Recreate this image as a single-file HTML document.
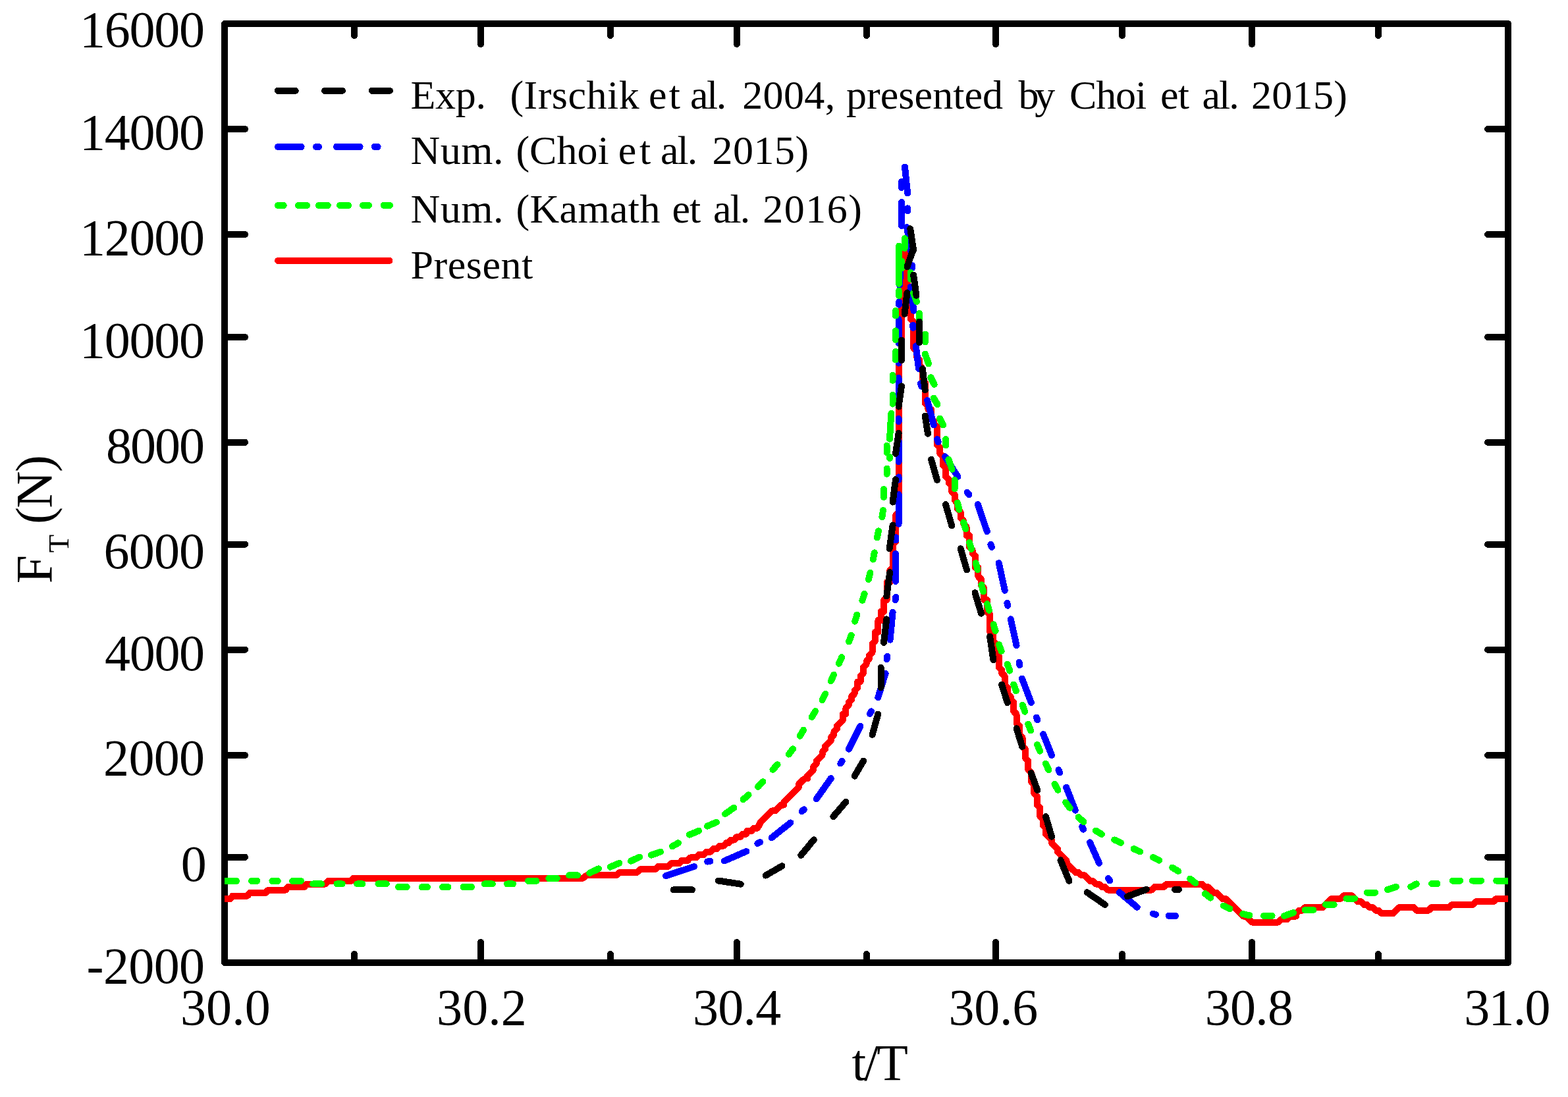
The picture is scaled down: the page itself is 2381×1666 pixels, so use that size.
<!DOCTYPE html>
<html lang="en"><head><meta charset="utf-8"><title>F_T (N) vs t/T</title>
<style>html,body{margin:0;padding:0;background:#fff;overflow:hidden}svg{display:block}text{font-family:'Liberation Serif', serif;fill:#000}.ax{stroke:#000;stroke-width:10;fill:none;stroke-linecap:round;stroke-linejoin:round}.c{fill:none;stroke-width:10;stroke-linecap:round;stroke-linejoin:round}</style></head><body>
<svg width="2381" height="1666" viewBox="0 0 2381 1666">
<rect x="0" y="0" width="2381" height="1666" fill="#fff"/>
<g class="ax" shape-rendering="crispEdges">
<rect x="341.1" y="36.1" width="1949.0" height="1425.9"/>
<path d="M730.0,1462.0V1431.0M730.0,36.1V67.1M1118.9,1462.0V1431.0M1118.9,36.1V67.1M1512.0,1462.0V1431.0M1512.0,36.1V67.1M1901.0,1462.0V1431.0M1901.0,36.1V67.1M538.0,1462.0V1449.0M538.0,36.1V54.1M926.9,1462.0V1449.0M926.9,36.1V54.1M1315.9,1462.0V1449.0M1315.9,36.1V54.1M1704.0,1462.0V1449.0M1704.0,36.1V54.1M2092.9,1462.0V1449.0M2092.9,36.1V54.1M341.1,196.0H372.1M2290.1,196.0H2259.1M341.1,356.0H372.1M2290.1,356.0H2259.1M341.1,511.9H372.1M2290.1,511.9H2259.1M341.1,671.8H372.1M2290.1,671.8H2259.1M341.1,826.7H372.1M2290.1,826.7H2259.1M341.1,986.7H372.1M2290.1,986.7H2259.1M341.1,1147.0H372.1M2290.1,1147.0H2259.1M341.1,1301.8H372.1M2290.1,1301.8H2259.1"/>
</g>
<clipPath id="pa"><rect x="341.1" y="36.1" width="1949.0" height="1425.9"/></clipPath>
<g class="c" clip-path="url(#pa)" shape-rendering="crispEdges">
<polyline stroke="#f00" stroke-linecap="butt" stroke-linejoin="round" points="341.1,1365.0 349.9,1365.0 353.3,1360.5 375.7,1360.5 379.4,1356.1 402.9,1356.1 407.4,1351.6 433.7,1351.6 437.4,1347.1 462.0,1347.1 466.0,1342.6 494.0,1342.6 498.0,1338.2 533.0,1338.2 537.0,1333.7 884.8,1333.7 891.4,1329.2 935.8,1329.2 941.0,1324.8 967.1,1324.8 972.4,1320.3 994.6,1320.3 999.8,1315.8 1014.2,1315.8 1019.4,1311.3 1031.2,1311.3 1035.1,1306.9 1044.2,1306.9 1048.2,1302.4 1057.3,1302.4 1061.2,1297.9 1069.1,1297.9 1073.0,1293.5 1079.5,1293.5 1083.4,1289.0 1088.7,1289.0 1092.6,1284.5 1099.1,1284.5 1103.0,1280.0 1107.0,1280.0 1109.6,1275.6 1114.8,1275.6 1118.7,1271.1 1124.0,1271.1 1127.9,1266.6 1133.1,1266.6 1134.4,1262.2 1140.9,1262.2 1144.9,1257.7 1150.1,1257.7 1152.7,1253.2 1154.6,1249.2 1172.5,1231.4 1177.0,1231.4 1185.9,1222.5 1190.4,1222.5 1190.4,1218.0 1212.8,1195.8 1212.8,1191.3 1221.7,1182.4 1226.2,1182.4 1226.2,1178.0 1235.1,1169.0 1235.1,1164.6 1239.6,1160.2 1239.6,1155.7 1248.5,1146.8 1248.5,1142.4 1253.0,1137.9 1253.0,1133.5 1261.9,1124.5 1261.9,1120.1 1266.4,1115.7 1266.4,1111.2 1270.9,1106.8 1270.9,1102.3 1279.8,1093.4 1279.8,1084.5 1284.3,1084.5 1284.3,1075.6 1288.7,1071.2 1288.7,1066.7 1293.2,1062.2 1293.2,1057.8 1297.7,1053.3 1297.7,1048.9 1302.2,1044.5 1302.2,1035.5 1306.6,1035.5 1306.6,1026.7 1311.1,1022.2 1311.1,1013.3 1315.6,1008.9 1315.6,1004.4 1320.0,1000.0 1320.0,995.5 1324.5,991.0 1324.5,977.7 1329.0,973.2 1329.0,959.9 1333.4,959.9 1333.4,942.1 1337.9,942.1 1337.9,928.8 1342.4,928.8 1342.4,911.0 1346.8,911.0 1346.8,884.2 1351.3,884.2 1351.3,866.5 1355.8,862.0 1355.8,826.4 1360.3,822.0 1360.3,781.9 1364.7,777.5 1364.7,541.6 1369.2,541.6 1369.2,377.0 1373.7,381.4 1373.7,408.1 1378.1,412.5 1378.1,443.7 1382.6,448.1 1382.6,483.8 1387.1,488.2 1387.1,528.2 1391.6,532.7 1391.6,541.6 1396.0,546.1 1396.0,555.0 1400.5,559.4 1400.5,577.2 1405.0,581.6 1405.0,612.8 1409.4,617.2 1409.4,621.7 1413.9,621.7 1413.9,635.1 1418.4,639.5 1418.4,644.0 1422.8,648.4 1422.8,675.1 1427.3,679.6 1427.3,688.5 1431.8,692.9 1431.8,706.2 1436.2,710.7 1436.2,724.1 1440.7,728.5 1440.7,733.0 1445.2,737.4 1445.2,746.3 1449.7,750.8 1449.7,759.6 1454.1,764.1 1454.1,773.0 1458.6,777.5 1458.6,786.4 1463.1,790.8 1463.1,795.2 1467.5,799.7 1467.5,813.1 1472.0,813.1 1472.0,830.9 1476.5,835.3 1476.5,839.8 1480.9,844.2 1480.9,862.0 1485.4,862.0 1485.4,875.4 1489.9,879.8 1489.9,888.7 1494.4,893.2 1494.4,911.0 1498.8,911.0 1498.8,928.8 1503.3,933.2 1503.3,959.9 1507.8,964.4 1507.8,973.2 1512.2,977.7 1512.2,991.0 1516.7,995.5 1516.7,1013.3 1521.2,1017.8 1521.2,1022.2 1525.7,1026.7 1525.7,1040.0 1530.1,1044.5 1530.1,1053.3 1534.6,1057.8 1534.6,1062.2 1539.1,1066.7 1539.1,1080.0 1543.5,1084.5 1543.5,1097.8 1548.0,1102.3 1548.0,1115.7 1552.5,1120.1 1552.5,1133.5 1556.9,1137.9 1556.9,1151.2 1561.4,1155.7 1561.4,1169.0 1565.9,1173.5 1565.9,1186.9 1570.3,1191.3 1570.3,1204.7 1574.8,1209.1 1574.8,1222.5 1579.3,1226.9 1579.3,1240.2 1583.8,1244.7 1583.8,1253.6 1588.2,1258.0 1588.2,1267.0 1597.2,1275.9 1597.2,1280.3 1606.1,1289.2 1606.1,1293.7 1619.5,1307.0 1619.5,1311.5 1632.9,1324.8 1637.4,1324.8 1641.9,1329.2 1646.3,1329.2 1655.3,1338.2 1659.8,1338.2 1664.2,1342.6 1668.7,1342.6 1673.2,1347.0 1677.6,1347.0 1682.1,1351.5 1749.2,1351.5 1753.6,1347.0 1767.0,1347.0 1771.5,1342.6 1825.1,1342.6 1829.6,1347.0 1834.1,1347.0 1843.0,1356.0 1847.5,1356.0 1856.4,1364.9 1860.9,1364.9 1887.7,1391.5 1892.2,1391.5 1901.1,1400.5 1941.4,1400.5 1945.8,1396.0 1954.8,1396.0 1959.2,1391.5 1968.2,1391.5 1968.2,1387.1 1972.7,1382.7 1977.1,1382.7 1981.6,1378.2 2008.4,1378.2 2021.8,1364.9 2035.2,1364.9 2039.7,1360.4 2053.1,1360.4 2062.0,1369.3 2066.5,1369.3 2071.0,1373.8 2075.5,1373.8 2079.9,1378.2 2084.4,1378.2 2088.9,1382.7 2093.3,1382.7 2097.8,1387.1 2115.7,1387.1 2124.6,1378.2 2147.0,1378.2 2151.4,1382.7 2169.3,1382.7 2173.8,1378.2 2200.6,1378.2 2205.1,1373.8 2236.4,1373.8 2240.8,1369.3 2267.7,1369.3 2272.1,1364.9 2290.0,1364.9"/>
<path stroke="#00f" d="M1011.0,1330.1L1054.2,1316.0M1074.3,1308.6L1078.5,1307.8M1099.9,1307.4L1133.3,1293.0M1150.3,1281.0L1154.1,1279.0M1171.8,1272.1L1200.5,1249.4M1217.6,1232.3L1220.8,1229.3M1239.7,1213.4L1261.8,1182.1M1276.4,1159.5L1278.6,1155.9M1288.9,1137.6L1306.3,1102.8M1320.9,1084.0L1323.1,1080.4M1333.3,1059.2L1344.6,1022.6M1346.6,1001.1L1347.2,996.9M1351.6,971.7L1355.6,929.9M1359.8,911.1L1360.2,906.9M1360.0,882.9L1360.0,841.0M1360.1,820.5L1360.5,816.3M1364.6,795.7L1364.6,750.5M1364.6,728.6L1364.6,724.4M1364.6,701.5L1364.6,669.7M1364.6,640.1L1364.6,635.9M1364.6,610.0L1364.6,574.0M1364.6,551.6L1364.6,547.4M1364.6,521.0L1364.6,485.0M1364.9,462.7L1365.1,458.5M1366.0,433.0L1368.0,397.0M1375.5,374.1L1375.5,369.9M1369.1,343.0L1369.1,307.0M1368.8,285.0L1368.8,276.0M1374.0,253.5L1378.1,293.4M1378.4,316.3L1378.4,320.5M1377.0,345.0L1383.0,380.8M1385.0,402.9L1385.0,407.1M1382.5,436.0L1387.5,471.7M1386.3,493.6L1386.5,497.8M1390.8,525.3L1395.1,560.1M1398.0,582.4L1399.2,586.6M1408.2,608.0L1417.8,645.5M1423.2,667.0L1424.6,671.0M1435.2,693.4L1454.4,723.9M1468.7,747.7L1471.3,751.1M1484.8,766.1L1498.8,807.1M1504.4,826.9L1506.0,830.9M1516.7,855.0L1525.8,896.8M1529.4,915.6L1530.2,919.8M1534.8,940.3L1543.6,980.4M1547.5,1005.9L1548.3,1010.1M1551.9,1030.5L1565.9,1067.1M1573.8,1089.5L1575.4,1093.5M1584.1,1115.0L1597.0,1147.0M1607.5,1169.4L1609.3,1173.4M1619.2,1195.8L1632.8,1230.6M1643.2,1255.6L1645.0,1259.6M1655.1,1279.4L1669.0,1310.8M1682.9,1333.9L1685.3,1337.5M1699.8,1355.2L1726.8,1377.8M1750.9,1387.7L1755.1,1388.9M1774.7,1390.9L1785.2,1390.9"/>
<path stroke="#0f0" d="M341.1,1337.9L359.1,1337.9M382.0,1337.9L390.3,1337.9M413.4,1337.9L421.7,1337.9M444.2,1337.9L457.0,1337.9M475.3,1342.4L488.3,1342.4M511.4,1342.4L519.7,1342.4M542.2,1342.4L550.5,1342.4M574.4,1342.3L586.8,1342.2M604.9,1347.1L617.7,1347.1M640.7,1347.1L649.0,1347.1M672.1,1347.1L680.4,1347.1M703.5,1347.1L716.2,1347.1M735.6,1342.4L747.8,1342.4M770.1,1342.4L778.9,1342.4M802.0,1337.9L814.5,1337.9M833.3,1334.0L845.8,1334.0M864.2,1329.3L876.9,1329.3M1919.0,1390.8L1931.6,1390.8M1950.0,1391.0L1964.1,1386.1M1981.7,1382.0L1994.3,1382.0M2013.0,1373.7L2025.7,1373.7M2044.4,1364.6L2057.0,1364.6M2075.7,1355.6L2088.4,1355.6M2106.9,1351.1L2119.9,1346.8M2142.2,1346.8L2150.8,1342.4M2174.2,1342.0L2182.5,1342.0M2205.5,1337.6L2217.3,1337.6M2236.0,1337.6L2249.5,1337.6M2272.2,1337.6L2290.0,1337.6M895.4,1325.9L908.9,1319.3M926.7,1316.7L940.3,1310.8M958.1,1307.6L971.0,1301.6M988.8,1298.6L1003.0,1293.7M1021.0,1285.3L1029.9,1280.2M1046.9,1267.7L1061.1,1261.8M1074.0,1254.7L1087.9,1248.7M1101.0,1236.1L1114.3,1226.8M1128.6,1214.1L1136.6,1207.3M1151.1,1194.9L1158.5,1187.3M1173.4,1168.8L1180.6,1161.2M1197.7,1145.6L1204.1,1137.4M1214.7,1117.7L1220.1,1108.7M1232.7,1089.0L1238.1,1080.0M1248.5,1063.1L1253.3,1053.7M1261.7,1034.4L1266.1,1024.8M1273.8,1007.8L1278.2,998.2M1289.1,974.5L1292.7,964.7M1298.2,943.6L1301.4,933.6M1309.4,911.9L1312.6,901.9M1318.9,880.1L1321.5,869.9M1325.8,849.6L1327.8,839.4M1331.8,816.5L1334.0,806.3M1339.4,785.3L1341.0,774.9M1454.0,763.6L1456.4,773.8M1463.3,793.4L1466.3,803.4M1472.0,823.8L1475.0,833.8M1481.7,855.1L1484.5,865.3M1490.4,888.2L1493.2,898.4M1499.0,917.0L1502.0,927.0M1508.6,948.4L1511.6,958.4M1517.0,979.0L1520.6,988.8M1529.8,1008.8L1533.4,1018.6M1539.3,1039.5L1542.9,1049.3M1552.7,1070.9L1556.3,1080.7M1561.3,1099.6L1565.1,1109.4M1575.0,1131.0L1579.2,1140.6M1587.9,1159.7L1592.3,1169.3M1601.5,1190.7L1606.5,1199.9M1618.2,1218.6L1624.6,1227.0M1637.6,1241.1L1645.4,1248.1M1664.0,1261.6L1673.0,1267.0M1692.4,1275.5L1702.0,1279.9M1721.7,1289.1L1731.3,1293.5M1750.9,1302.0L1760.3,1306.6M1780.2,1317.6L1789.2,1323.0M1807.2,1334.5L1815.4,1341.1M1829.9,1357.2L1838.1,1363.6M1858.0,1375.5L1867.4,1380.1M1887.2,1388.1L1897.4,1390.3M1342.0,755.0L1342.0,742.8M1346.7,719.8L1346.7,711.5M1351.2,696.0L1351.2,694.0M1346.7,687.5L1346.7,676.6M1351.0,666.6L1353.3,627.9M1355.5,613.5L1355.5,600.0M1355.5,577.8L1355.5,569.5M1360.0,546.4L1360.0,533.8M1360.0,516.0L1360.0,502.4M1360.0,479.6L1360.0,472.0M1365.0,449.0L1365.0,441.7M1365.0,430.8L1365.0,373.7M1373.8,377.0L1373.8,362.0M1369.3,396.8L1369.3,407.3M1382.7,413.8L1382.7,423.8M1387.0,445.0L1392.0,458.0M1396.0,476.0L1396.0,485.5M1405.0,507.6L1405.0,519.4M1404.7,537.5L1410.0,552.3M1413.4,573.2L1418.6,583.7M1417.8,604.6L1423.5,614.1M1427.0,635.6L1432.2,645.5M1436.2,667.0L1436.2,676.2M1440.4,697.8L1445.6,712.6M1449.7,728.9L1449.7,742.4"/>
<path stroke="#000" d="M1022.6,1351.3L1051.0,1351.3M1090.8,1337.5L1124.7,1342.7M1162.6,1329.6L1187.5,1315.2M1216.2,1299.0L1235.8,1275.3M1265.3,1240.1L1284.5,1217.8M1297.6,1178.6L1311.1,1155.6M1324.6,1115.9L1333.3,1084.5M1337.6,1044.4L1337.6,1013.9M1342.0,976.0L1346.3,940.3M1346.3,905.5L1351.2,869.0M1350.7,833.2L1355.6,797.5M1355.6,762.6L1360.0,728.2M1360.0,689.0L1364.6,657.7M1364.6,617.6L1369.0,586.3M1369.0,547.0L1369.0,516.6M1373.6,476.7L1377.5,444.5M1377.5,405.3L1387.1,377.4M1382.3,347.4L1387.1,380.0M1387.1,417.5L1391.5,448.9M1396.0,488.7L1396.0,520.0M1400.9,560.1L1404.7,592.4M1404.7,631.6L1409.0,658.6M1414.0,697.8L1423.0,729.1M1436.0,766.1L1445.3,798.4M1458.7,833.2L1468.0,865.4M1480.5,900.3L1490.0,931.6M1503.1,966.5L1508.4,1002.2M1521.1,1039.7L1529.8,1067.1M1543.6,1106.3L1552.3,1134.1M1565.7,1174.0L1575.3,1200.1M1588.0,1240.2L1597.0,1270.7M1610.5,1306.4L1623.5,1337.8M1650.7,1355.2L1678.0,1374.0M1712.0,1361.3L1740.8,1350.8M1784.0,1350.8L1790.0,1350.8"/>
</g>
<g class="c" shape-rendering="crispEdges">
<path stroke="#000" d="M421.9,137.8H448.7M493,137.8H519.9M564.9,137.8H591.9"/>
<path stroke="#00f" d="M421.9,222.9H457.6M479.9,222.9H484.2M510.9,222.9H546.6M568.8,222.9H573.6"/>
<path stroke="#0f0" d="M421.9,311.9H430.7M452.9,311.9H466.1M483.9,311.9H497.8M516,311.9H529.1M551,311.9H560M582.7,311.9H591.9"/>
<path stroke="#f00" d="M422,395.9H591.5"/>
</g>
<g>
<text x="121.00" y="71.40" font-size="78" letter-spacing="-1.225">16000</text>
<text x="121.00" y="226.50" font-size="78" letter-spacing="-1.225">14000</text>
<text x="121.00" y="386.60" font-size="78" letter-spacing="-1.225">12000</text>
<text x="121.00" y="542.70" font-size="78" letter-spacing="-1.225">10000</text>
<text x="160.90" y="703.10" font-size="78" letter-spacing="-1.933">8000</text>
<text x="157.60" y="862.70" font-size="78" letter-spacing="-0.833">6000</text>
<text x="159.10" y="1017.60" font-size="78" letter-spacing="-1.333">4000</text>
<text x="157.10" y="1177.40" font-size="78" letter-spacing="-0.667">2000</text>
<text x="274.80" y="1338.00" font-size="78">0</text>
<text x="131.60" y="1492.80" font-size="78" letter-spacing="-0.619">-2000</text>
<text x="274.00" y="1556.10" font-size="78" letter-spacing="0.067">30.0</text>
<text x="663.10" y="1556.10" font-size="78" letter-spacing="0.067">30.2</text>
<text x="1052.00" y="1556.10" font-size="78" letter-spacing="-0.767">30.4</text>
<text x="1440.60" y="1556.10" font-size="78" letter-spacing="-0.267">30.6</text>
<text x="1829.80" y="1556.10" font-size="78" letter-spacing="-0.733">30.8</text>
<text x="2223.20" y="1556.10" font-size="78" letter-spacing="-1.733">31.0</text>
<text x="1293.40" y="1639.90" font-size="78" letter-spacing="-2.721">t/T</text>
<text y="164.90" font-size="62"><tspan x="623.50" letter-spacing="-0.257">Exp. </tspan><tspan x="774.40" letter-spacing="0.513">(Irschik </tspan><tspan x="985.10" letter-spacing="3.181">et </tspan><tspan x="1048.10" letter-spacing="-2.522">al. </tspan><tspan x="1127.20" letter-spacing="0.375">2004, </tspan><tspan x="1285.00" letter-spacing="0.068">presented </tspan><tspan x="1546.60" letter-spacing="-6.400">by </tspan><tspan x="1624.00" letter-spacing="-1.118">Choi </tspan><tspan x="1761.90" letter-spacing="-0.719">et </tspan><tspan x="1825.60" letter-spacing="-2.072">al. </tspan><tspan x="1900.00" letter-spacing="0.300">2015)</tspan></text>
<text y="249.20" font-size="62"><tspan x="623.50" letter-spacing="0.500">Num. </tspan><tspan x="783.50" letter-spacing="-0.025">(Choi </tspan><tspan x="938.70" letter-spacing="4.881">et </tspan><tspan x="1003.00" letter-spacing="-2.022">al. </tspan><tspan x="1081.50" letter-spacing="0.500">2015)</tspan></text>
<text y="338.40" font-size="62"><tspan x="623.50" letter-spacing="0.500">Num. </tspan><tspan x="783.50" letter-spacing="0.332">(Kamath </tspan><tspan x="1020.40" letter-spacing="-1.019">et </tspan><tspan x="1083.10" letter-spacing="-2.072">al. </tspan><tspan x="1158.20" letter-spacing="1.500">2016)</tspan></text>
<text y="423.20" font-size="62"><tspan x="623.50" letter-spacing="0.551">Present</tspan></text>
<text transform="translate(78.2,900.0) rotate(-90)" font-size="78"><tspan x="13.80" y="0.00">F</tspan><tspan x="60.80" y="26.00" font-size="45">T </tspan><tspan x="103.90" y="0.00" letter-spacing="-1.652">(N)</tspan></text>
</g>
</svg></body></html>
